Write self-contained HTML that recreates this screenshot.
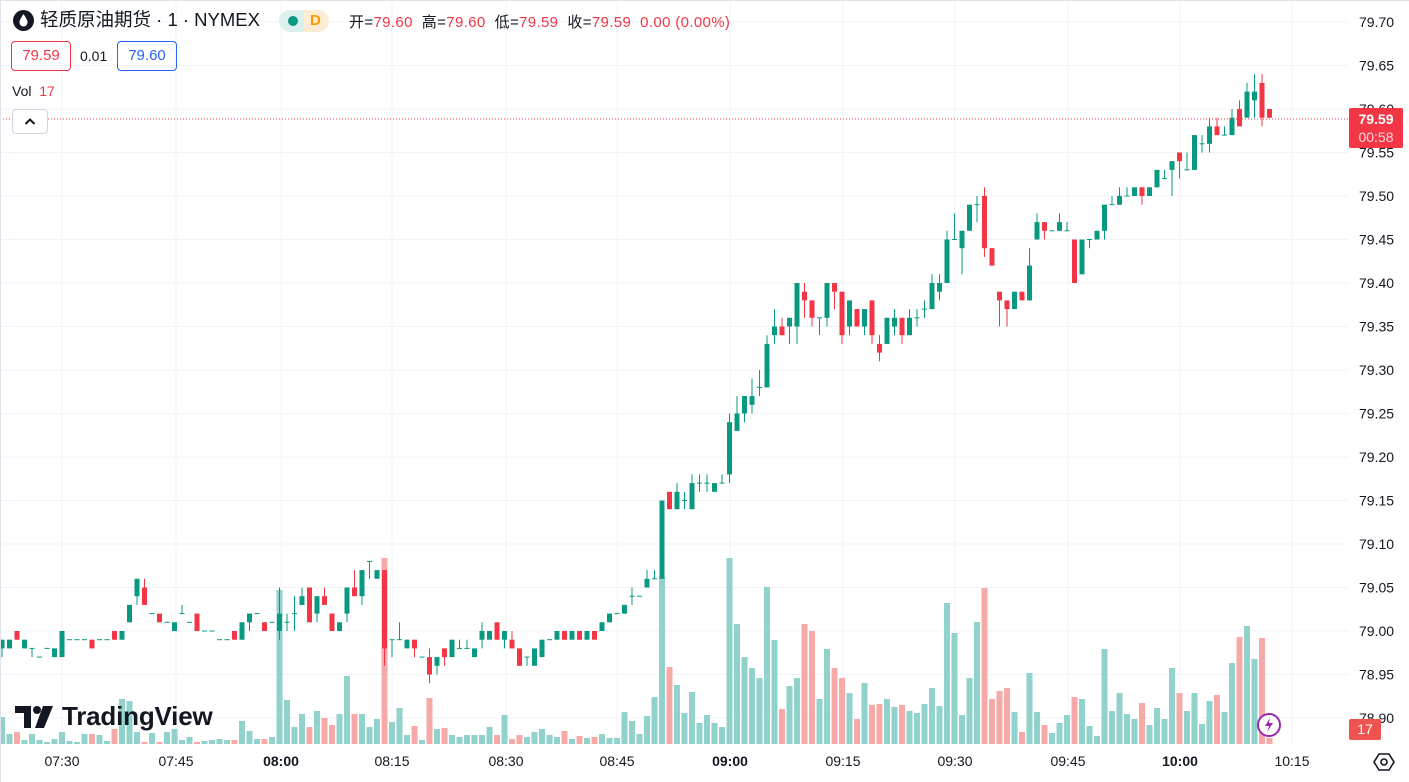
<!DOCTYPE html>
<html><head><meta charset="utf-8">
<style>
html,body{margin:0;padding:0;background:#fff;}
body{width:1409px;height:782px;position:relative;overflow:hidden;font-family:"Liberation Sans","Noto Sans CJK SC",sans-serif;color:#131722;}
.abs{position:absolute;white-space:nowrap;}
svg{position:absolute;left:0;top:0;}
</style></head><body>
<svg id="c" width="1409" height="782" xmlns="http://www.w3.org/2000/svg"></svg>

<div class="abs" style="left:13px;top:10px;width:21px;height:21px;border-radius:50%;background:#131722;">
 <svg width="21" height="21" style="position:absolute;left:0;top:0"><path d="M10.5 4 C8 8 6.5 10 6.5 12.5 A4 4 0 0 0 14.5 12.5 C14.5 10 13 8 10.5 4Z" fill="#fff"/></svg>
</div>
<div class="abs" style="left:40px;top:8px;font-size:18.5px;line-height:24px;color:#131722;letter-spacing:0px;">轻质原油期货 · 1 · NYMEX</div>
<div class="abs" style="left:279px;top:10px;width:50px;height:22px;border-radius:11px;overflow:hidden;">
 <div style="position:absolute;left:0;top:0;width:25px;height:22px;background:#daf1ee;"></div>
 <div style="position:absolute;left:25px;top:0;width:25px;height:22px;background:#fdecd4;"></div>
 <div style="position:absolute;left:9px;top:6px;width:10px;height:10px;border-radius:50%;background:#089981;"></div>
 <div style="position:absolute;left:31px;top:2px;font-size:15px;font-weight:bold;color:#ff9800;line-height:18px;">D</div>
</div>
<div class="abs" style="left:349px;top:14px;font-size:15px;line-height:18px;color:#131722;letter-spacing:0.35px;">开=<span style="color:#f23645">79.60</span>&nbsp; 高=<span style="color:#f23645">79.60</span>&nbsp; 低=<span style="color:#f23645">79.59</span>&nbsp; 收=<span style="color:#f23645">79.59&nbsp; 0.00 (0.00%)</span></div>

<div class="abs" style="left:11px;top:41px;width:58px;height:28px;border:1px solid #f23645;border-radius:4px;color:#f23645;font-size:15px;line-height:28px;text-align:center;">79.59</div>
<div class="abs" style="left:80px;top:47px;font-size:14px;line-height:18px;color:#131722;">0.01</div>
<div class="abs" style="left:117px;top:41px;width:58px;height:28px;border:1px solid #2962ff;border-radius:4px;color:#2962ff;font-size:15px;line-height:28px;text-align:center;">79.60</div>
<div class="abs" style="left:12px;top:82px;font-size:14px;line-height:18px;color:#131722;">Vol&nbsp; <span style="color:#f23645">17</span></div>
<div class="abs" style="left:12px;top:109px;width:34px;height:23px;border:1px solid #d1d4dc;border-radius:4px;background:#fff;">
 <svg width="34" height="23" style="position:absolute;left:0;top:0"><path d="M12.5 14 L17 9.5 L21.5 14" stroke="#131722" stroke-width="2" fill="none"/></svg>
</div>

<div class="abs" style="left:15px;top:704px;">
 <svg width="40" height="26" style="position:absolute;left:0;top:0">
  <path d="M0 2 H16 V24 H9 V9 H0 Z" fill="#131722"/>
  <circle cx="22" cy="6" r="4" fill="#131722"/>
  <path d="M28 2 H38 L29 24 H20 Z" fill="#131722"/>
 </svg>
 <div style="position:absolute;left:47px;top:-3px;font-size:26px;font-weight:bold;line-height:30px;color:#131722;letter-spacing:-0.2px;">TradingView</div>
</div>

<div class="abs" style="left:1349px;top:108px;width:54px;height:40px;background:#f23645;border-radius:2px;color:#fff;text-align:center;font-size:14px;line-height:18px;">
 <div style="margin-top:2px;font-weight:bold;">79.59</div><div style="color:#ffd6d8;">00:58</div>
</div>
<div class="abs" style="left:1349px;top:719px;width:32px;height:21px;background:#ef5350;border-radius:2px;color:#fff;text-align:center;font-size:14px;line-height:21px;">17</div>
<div class="abs" style="left:1257px;top:713px;width:24px;height:24px;border-radius:50%;border:2px solid #9c27b0;background:#fff;box-sizing:border-box;">
 <svg width="20" height="20" style="position:absolute;left:0;top:0"><path d="M11 3 L6 11 H10 L8 17 L14 8 H10 Z" fill="#9c27b0"/></svg>
</div>
<div class="abs" style="left:1373px;top:751px;">
 <svg width="22" height="22"><path d="M6 3 H16 L21 11 L16 19 H6 L1 11 Z" fill="none" stroke="#131722" stroke-width="1.6"/><circle cx="11" cy="11" r="3" fill="none" stroke="#131722" stroke-width="1.6"/></svg>
</div>

<script>
var D=[[-2,-1,-1,-3],[-2,-1],[0,-1],[-2,-1],[-2,-2,-2,-3],[-3],[-2],[-3,-2],[-3,0],[-1],[-1],[-1],[-1,-2],[-1],[-1],[0,-1],[-1,0],[1,3],[4,6,6,3],[5,3,6],
[2],[2,1],[1],[0,1],[2,2,3],[1],[2,0],[0],[0],[-1],[-1],[0,-1],[-1,1],[1,2,2,0],[2],[1,0],[1],[0,2,5,-1],[1,1,2,0],[2,2,4,0],
[3,4,5],[5,1],[2,4,4,1],[4,3,5],[2,0],[0,1],[2,5,5,1],[5,4,7],[4,7,7,3],[8,8,8,6],[6,7],[7,-2,7,-4],[-1,-1,-1,-3],[-1,-1,1],[-2,-1],[-1,-2,-1,-3],[-3],[-3,-5,-2,-6],[-4,-3,-3,-5],[-2,-3,-2,-4],
[-3,-1],[-2,-2,-1],[-2,-2,-1],[-3,-2],[-1,0,1,-2],[-1,0],[1,-1],[-1,0,0,-2],[-1,-2,0],[-2,-4],[-3,-3,-3,-4],[-4,-2],[-3,-1],[-1],[-1,0],[0,-1],[-1,0],[0,-1],[-1,0],[0,-1],
[0,1],[1,2],[2],[2,3],[4,4,5,3],[4],[5,6,7],[6,6,7],[6,15],[16,14],[14,16,17],[15,15,16,14],[14,17,18],[17,17,18,16],[17,17,18,16],[16,17],[17,17,18],[18,24,25,17],[23,25,27],[25,27,27,24],
[26,27,29,25],[28,28,30,27],[28,33,34],[34,35,37,33],[35,34,36],[35,36,36,33],[35,40,40,33],[39,38,40,36],[38,36,38,35],[36,36,36,34],[36,40,40,35],[40,39,40,37],[39,34,39,33],[35,38,38,34],[37,35],[35,37,37,34],[38,34,38,33],[33,32,34,31],[33,36],[35,36,37,34],
[36,34,36,33],[34,36,37],[36,36,37,35],[37,37,38,36],[37,40,41],[39,40,41,38],[40,45,46],[45,45,48],[44,46,46,41],[46,49],[49,49,50,47],[50,44,51,43],[44,42],[39,38,39,35],[38,37,38,35],[37,39],[39,38],[38,42,44],[45,47,48],[47,46,47,45],
[46],[46,47,48],[46,46,47],[45,40],[41,45],[45,45,45,44],[45,46],[46,49,49,45],[49,49,50],[49,50,51],[50,50,51],[50,51],[51,50,51,49],[50,51],[51,53],[52,52,53],[53,54,54,50],[55,54,55,52],[53,53,55],[53,57],
[56,56,57,55],[56,58,59,55],[58,57,59],[57,57,58],[57,59,60],[60,58,61],[59,62,63],[61,62,64,59],[63,59,64,58],[60,59]];
var V=[27,10,12,4,10,4,2,5,12,3,2,10,10,9,3,15,45,43,12,2,11,2,12,15,4,7,2,3,4,5,4,4,23,13,5,5,7,154,44,17,30,17,33,26,19,30,
68,30,30,17,25,186,22,36,9,18,4,46,15,16,9,7,9,9,9,17,9,29,5,9,7,12,15,9,7,13,5,8,6,7,10,6,6,32,23,10,28,47,167,77,
59,31,52,21,29,21,17,186,120,87,76,66,157,104,35,58,66,120,113,45,95,76,66,51,25,61,39,40,45,37,39,33,31,40,56,38,141,111,29,66,122,156,45,53,56,32,12,71,32,19,11,21,29,47,45,18,8,95,33,51,30,25,41,19,36,25,76,51,33,51,20,43,49,32,81,107,118,85,106,6];
var s='';
function py(p){return 22+(79.70-p)*870;}
for(var k=0;k<=16;k++){var y=(22+43.5*k).toFixed(1);s+='<line x1="0" y1="'+y+'" x2="1349" y2="'+y+'" stroke="#f0f3fa" stroke-width="1"/>';}
var tx=[62,176,281,392,506,617,730,843,955,1068,1180,1292];
tx.forEach(function(x){s+='<line x1="'+x+'" y1="0" x2="'+x+'" y2="745" stroke="#f0f3fa" stroke-width="1"/>';});
for(var i=0;i<D.length;i++){var d=D[i];var o=d[0],c=d.length>1?d[1]:d[0];var up=c>=o;var x=2+7.5*i;var h=V[i];
 s+='<rect x="'+(x-3).toFixed(1)+'" y="'+(744-h)+'" width="6" height="'+h+'" fill="'+(up?'#92d2cc':'#f7a9a7')+'"/>';}
for(var i=0;i<D.length;i++){var d=D[i];var o=d[0],c=d.length>1?d[1]:d[0];var h=d.length>2?d[2]:Math.max(o,c);var l=d.length>3?d[3]:Math.min(o,c);
 var up=c>=o;var col=up?'#089981':'#f23645';var x=2+7.5*i;
 var yo=py(79+o/100),yc=py(79+c/100),yh=py(79+h/100),yl=py(79+l/100);
 if(yh<yl-0.5)s+='<rect x="'+(x-0.5).toFixed(1)+'" y="'+yh.toFixed(1)+'" width="1" height="'+(yl-yh).toFixed(1)+'" fill="'+col+'"/>';
 var t=Math.min(yo,yc),b=Math.max(yo,yc);if(b-t<1){t-=0.5;b=t+1;}
 s+='<rect x="'+(x-2.5).toFixed(1)+'" y="'+t.toFixed(1)+'" width="5" height="'+(b-t).toFixed(1)+'" fill="'+col+'"/>';}
s+='<line x1="0" y1="119" x2="1349" y2="119" stroke="#f23645" stroke-width="1" stroke-dasharray="1,2"/>';
s+='<line x1="0" y1="0.5" x2="1409" y2="0.5" stroke="#e0e3eb"/><line x1="0.5" y1="0" x2="0.5" y2="782" stroke="#e0e3eb"/>';
for(var k=0;k<=16;k++){var p=(79.70-0.05*k).toFixed(2);s+='<text x="1359" y="'+(22+43.5*k+5).toFixed(1)+'" font-size="14" fill="#131722" font-family="Liberation Sans, sans-serif">'+p+'</text>';}
var tl=['07:30','07:45','08:00','08:15','08:30','08:45','09:00','09:15','09:30','09:45','10:00','10:15'];
tl.forEach(function(t,j){var b=(t=='08:00'||t=='09:00'||t=='10:00');s+='<text x="'+tx[j]+'" y="766" text-anchor="middle" font-size="14" '+(b?'font-weight="bold" ':'')+'fill="#131722" font-family="Liberation Sans, sans-serif">'+t+'</text>';});
document.getElementById('c').innerHTML=s;
</script>
</body></html>
